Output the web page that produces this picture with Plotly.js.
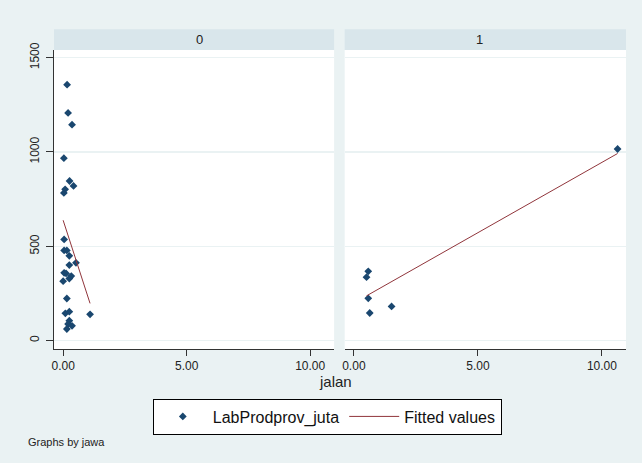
<!DOCTYPE html>
<html>
<head>
<meta charset="utf-8">
<script src="https://cdn.plot.ly/plotly-3.0.1.min.js"></script>
<style>html,body{margin:0;padding:0;background:#eaf2f3;}#chart{width:642px;height:463px;}</style>
</head>
<body>
<div id="chart"></div>
<script>
// Panel titles (by jawa)
const panelLabels = ["0", "1"];
// jawa = 0 : scatter
const x0 = [0.16,0.20,0.36,0.03,0.26,0.42,0.08,0.03,0.04,0.04,0.15,0.25,0.52,0.25,0.04,0.12,0.33,0.25,0.00,0.15,0.09,0.25,1.09,0.25,0.20,0.36,0.15];
const y0 = [1357,1207,1145,967,846,820,802,783,536,478,478,449,412,400,359,356,342,329,315,223,144,153,139,105,87,78,61];
// jawa = 0 : fitted values (endpoints)
const fitX0 = [0.00, 1.09];
const fitY0 = [638, 197];
// jawa = 1 : scatter
const x1 = [10.63,0.58,0.51,0.58,1.52,0.64];
const y1 = [1016,367,336,224,181,146];
// jawa = 1 : fitted values
const fitX1 = [0.51, 10.63];
const fitY1 = [237, 992];
// Tick labels
const xTickVals = [0, 5, 10];
const xTickText = ["0.00", "5.00", "10.00"];
const yTickVals = [0, 500, 1000, 1500];
const yTickText = ["0", "500", "1000", "1500"];

const navy = "#1a476f", maroon = "#90353b";
const bg = "#eaf2f3", strip = "#d9e6eb";
const font = "Liberation Sans, Arial, sans-serif";

const traces = [
  {x: x0, y: y0, xaxis: "x", yaxis: "y", mode: "markers", type: "scatter", name: "LabProdprov_juta",
   marker: {symbol: "diamond", size: 6, color: navy}, legendgroup: "a", showlegend: true},
  {x: fitX0, y: fitY0, xaxis: "x", yaxis: "y", mode: "lines", type: "scatter", name: "Fitted values",
   line: {color: maroon, width: 1}, legendgroup: "b", showlegend: true},
  {x: x1, y: y1, xaxis: "x2", yaxis: "y2", mode: "markers", type: "scatter", name: "LabProdprov_juta",
   marker: {symbol: "diamond", size: 6, color: navy}, legendgroup: "a", showlegend: false},
  {x: fitX1, y: fitY1, xaxis: "x2", yaxis: "y2", mode: "lines", type: "scatter", name: "Fitted values",
   line: {color: maroon, width: 1}, legendgroup: "b", showlegend: false}
];

const xaxisBase = {
  range: [-0.37, 10.97], tickvals: xTickVals, ticktext: xTickText,
  showgrid: false, zeroline: false, showline: true, linecolor: "#333", linewidth: 1,
  ticks: "outside", ticklen: 6, tickcolor: "#333", tickfont: {family: font, size: 12, color: "#222"}
};
const yaxisBase = {
  range: [-45, 1541], tickvals: yTickVals, ticktext: yTickText,
  showgrid: true, gridcolor: bg, gridwidth: 1.5, zeroline: false
};

const layout = {
  width: 642, height: 463,
  paper_bgcolor: bg, plot_bgcolor: "#ffffff",
  margin: {l: 53.5, r: 16.3, t: 50, b: 114},
  font: {family: font, size: 12, color: "#222"},
  xaxis: Object.assign({}, xaxisBase, {domain: [0, 0.4897], anchor: "y"}),
  xaxis2: Object.assign({}, xaxisBase, {domain: [0.5082, 1], anchor: "y2"}),
  yaxis: Object.assign({}, yaxisBase, {domain: [0, 1], anchor: "x", showline: true, linecolor: "#333", linewidth: 1,
    ticks: "outside", ticklen: 7, tickcolor: "#333", tickangle: -90, ticklabelstandoff: 2,
    tickfont: {family: font, size: 12, color: "#222"}}),
  yaxis2: Object.assign({}, yaxisBase, {domain: [0, 1], anchor: "x2", showline: false, showticklabels: false, ticks: ""}),
  showlegend: true,
  legend: {orientation: "h", x: 0.4778, xanchor: "center", y: -0.1656, yanchor: "top",
    bgcolor: "#ffffff", bordercolor: "#000", borderwidth: 1, itemwidth: 50, tracegroupgap: 0,
    font: {family: font, size: 16, color: "#111"}},
  shapes: [
    {type: "rect", xref: "paper", yref: "paper", x0: 0, x1: 0.4897, y0: 1.0, y1: 1.069, fillcolor: strip, line: {width: 0}, layer: "below"},
    {type: "rect", xref: "paper", yref: "paper", x0: 0.5082, x1: 1, y0: 1.0, y1: 1.069, fillcolor: strip, line: {width: 0}, layer: "below"}
  ],
  annotations: [
    {text: panelLabels[0], xref: "paper", yref: "paper", x: 0.24485, y: 1.036, yanchor: "middle", showarrow: false, font: {family: font, size: 13, color: "#222"}},
    {text: panelLabels[1], xref: "paper", yref: "paper", x: 0.7541, y: 1.036, yanchor: "middle", showarrow: false, font: {family: font, size: 13, color: "#222"}},
    {text: "jalan", xref: "paper", yref: "paper", x: 0.492, y: -0.110, yanchor: "middle", showarrow: false, font: {family: font, size: 15, color: "#222"}},
    {text: "Graphs by jawa", xref: "paper", yref: "paper", x: -0.0498, xanchor: "left", y: -0.311, yanchor: "middle", showarrow: false, font: {family: font, size: 11, color: "#222"}}
  ]
};

Plotly.newPlot("chart", traces, layout, {displayModeBar: false, staticPlot: true});
</script>
</body>
</html>
